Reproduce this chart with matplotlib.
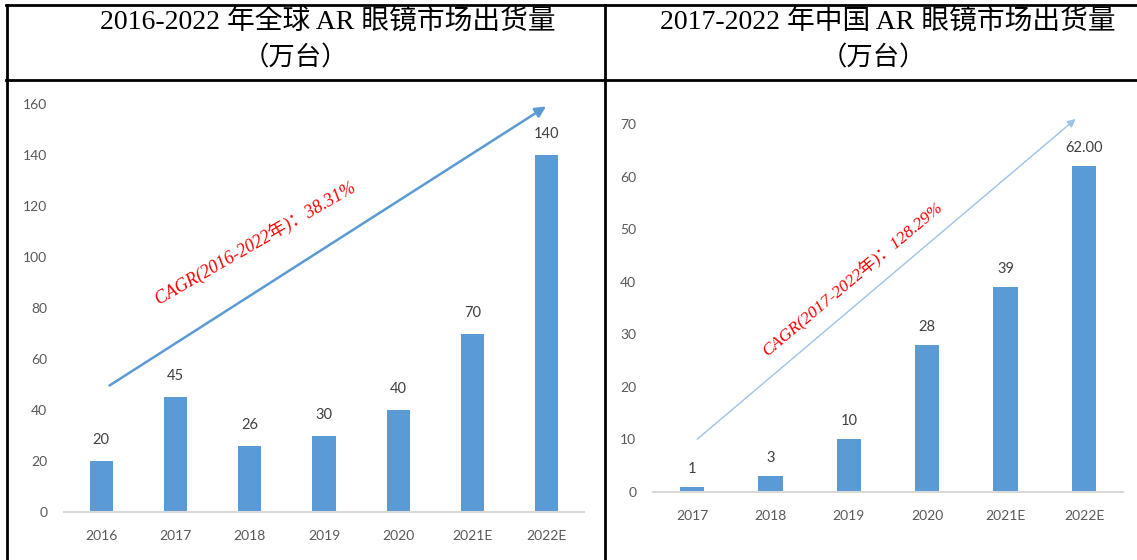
import matplotlib
matplotlib.use('Agg')
import matplotlib.pyplot as plt
from matplotlib.lines import Line2D

# data
world_years = ['2016', '2017', '2018', '2019', '2020', '2021E', '2022E']
world_vals = [20, 45, 26, 30, 40, 70, 140]
world_labels = ['20', '45', '26', '30', '40', '70', '140']

china_years = ['2017', '2018', '2019', '2020', '2021E', '2022E']
china_vals = [1, 3, 10, 28, 39, 62]
china_labels = ['1', '3', '10', '28', '39', '62.00']

world_title = ['2016-2022 年全球 AR 眼镜市场出货量', '（万台）']
china_title = ['2017-2022 年中国 AR 眼镜市场出货量', '（万台）']
world_cagr = 'CAGR(2016-2022年)：38.31%'
china_cagr = 'CAGR(2017-2022年)：128.29%'

bar_color = '#5B9BD5'
tick_color = '#595959'
lab_color = '#404040'
num_font = ['Lato', 'DejaVu Sans']
serif = ['Liberation Serif', 'Noto Sans CJK SC']
cjk = ['Noto Sans CJK SC', 'DejaVu Sans']

W, H = 1137, 560
fig = plt.figure(figsize=(W / 100, H / 100), dpi=100)


def px(x, y):
    return x / W, 1 - y / H


def style_axes(ax, cats, vals, labels, ylim, step, offset):
    x = range(len(cats))
    ax.bar(x, vals, width=0.31, color=bar_color, zorder=2)
    for xi, v, lab in zip(x, vals, labels):
        ax.annotate(lab, (xi, v), xytext=(0, offset), textcoords='offset points',
                    ha='center', va='center', fontsize=10.5, color=lab_color,
                    family=num_font)
    ax.set_xlim(-0.5, len(cats) - 0.5)
    ax.set_ylim(0, ylim)
    ax.set_yticks(range(0, ylim + 1, step))
    ax.set_xticks(list(x))
    ax.set_xticklabels(cats)
    for s in ['top', 'right', 'left']:
        ax.spines[s].set_visible(False)
    ax.spines['bottom'].set_color('#D9D9D9')
    ax.spines['bottom'].set_linewidth(1.5)
    ax.tick_params(axis='both', length=0, colors=tick_color, labelsize=10)
    ax.tick_params(axis='y', pad=12)
    ax.tick_params(axis='x', pad=13)
    for t in ax.get_xticklabels() + ax.get_yticklabels():
        t.set_family(num_font)


# left chart: global
ax1 = fig.add_axes([64 / W, 48 / H, 520 / W, 408 / H])
style_axes(ax1, world_years, world_vals, world_labels, 160, 20, 15)
ax1.annotate('', xy=(6.02, 159.6), xytext=(0.08, 49),
             arrowprops=dict(arrowstyle='-|>', color=bar_color, lw=1.8,
                             mutation_scale=16),
             annotation_clip=False)
ax1.text(2.07, 105.5, world_cagr, rotation=30, rotation_mode='anchor',
         ha='center', va='center', color='#FF0000', fontsize=13,
         style='italic', family=serif)

# right chart: China
ax2 = fig.add_axes([652.8 / W, 68 / H, 470.4 / W, 368 / H])
style_axes(ax2, china_years, china_vals, china_labels, 70, 10, 13)
ax2.annotate('', xy=(4.92, 71.3), xytext=(0.04, 9.7),
             arrowprops=dict(arrowstyle='-|>', color='#9DC3E6', lw=1.0,
                             mutation_scale=12),
             annotation_clip=False)
ax2.text(2.03, 40.7, china_cagr, rotation=40, rotation_mode='anchor',
         ha='center', va='center', color='#FF0000', fontsize=12.5,
         style='italic', family=serif)

# titles
fig.text(*px(328, 22), world_title[0], ha='center', va='center',
         fontsize=20, family=serif)
fig.text(*px(295, 58), world_title[1], ha='center', va='center',
         fontsize=19, family=cjk)
fig.text(*px(888, 22), china_title[0], ha='center', va='center',
         fontsize=20, family=serif)
fig.text(*px(873, 58), china_title[1], ha='center', va='center',
         fontsize=19, family=cjk)

# table frame
lw = 2
for (x0, y0), (x1, y1) in [((7, 5), (7, H)), ((605, 5), (605, H)),
                           ((6, 5), (W, 5)), ((6, 80), (W, 80))]:
    a, b = px(x0, y0)
    c, d = px(x1, y1)
    fig.add_artist(Line2D([a, c], [b, d], color='black', lw=lw))

plt.savefig('out.png', dpi=100)
